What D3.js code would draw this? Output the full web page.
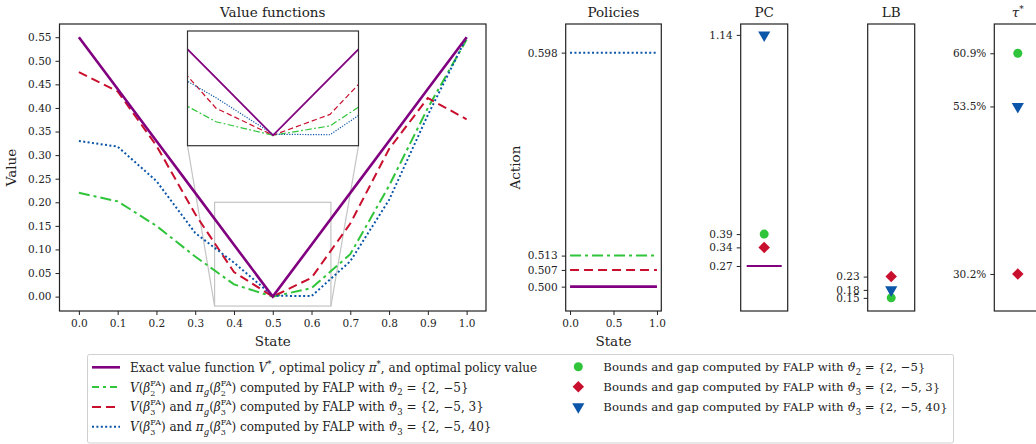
<!DOCTYPE html>
<html>
<head>
<meta charset="utf-8">
<script src="https://cdn.jsdelivr.net/npm/d3@7"></script>
<style>
  body { margin: 0; background: #fff; }
  svg text { fill: #222; }
  .tick line { stroke: #222; }
  .domain { display: none; }
</style>
</head>
<body>
<script>
// ---- data ----
var states = [0, 0.1, 0.2, 0.3, 0.4, 0.5, 0.6, 0.7, 0.8, 0.9, 1.0];
var vExact = [0.55, 0.44, 0.33, 0.22, 0.11, 0, 0.11, 0.22, 0.33, 0.44, 0.55];
var vTheta2 = [0.22, 0.202, 0.15, 0.085, 0.026, 0, 0.018, 0.09, 0.235, 0.40, 0.545];
var vTheta3 = [0.476, 0.435, 0.32, 0.175, 0.052, 0, 0.04, 0.155, 0.313, 0.421, 0.376];
var vTheta40 = [0.33, 0.318, 0.245, 0.135, 0.072, 0.002, 0.001, 0.075, 0.205, 0.385, 0.55];

var policyExact = 0.500, policyTheta2 = 0.513, policyTheta3 = 0.507, policyTheta40 = 0.598;

var pcExact = 0.27;
var pcValues = [0.39, 0.34, 1.14];      // theta2, theta3, theta40
var lbValues = [0.15, 0.23, 0.18];
var tauValues = [60.9, 30.2, 53.5];

var mainXTicks = d3.range(0, 1.01, 0.1);
var mainYTicks = d3.range(0, 0.5501, 0.05);
var policyYTicks = [0.500, 0.507, 0.513, 0.598];

var purple = '#800080', green = '#2fc43a', red = '#c8102e', blue = '#0b56a8';
var FONT = 'DejaVu Serif';
var TICK = '10.5px', LAB = '13.5px', LEG = '12px';

var series = [
  {vals: vTheta2, color: green, dash: '11,4,3,4', policy: policyTheta2},
  {vals: vTheta3, color: red, dash: '9,5', policy: policyTheta3},
  {vals: vTheta40, color: blue, dash: '2,2.4', policy: policyTheta40},
  {vals: vExact, color: purple, dash: null, policy: policyExact}
];

var svg = d3.select('body').append('svg').attr('width', 1036).attr('height', 444)
  .style('font-family', FONT);

function frame(g, w, h, col) {
  g.append('rect').attr('width', w).attr('height', h)
    .attr('fill', 'none').attr('stroke', col || '#222').attr('stroke-width', 1.2);
}
function fixFont(g) {
  g.attr('font-family', null).selectAll('text').style('font-family', FONT).style('font-size', TICK);
}

// ---- value functions ----
var m = {left: 59.5, top: 24, w: 426.5, h: 287};
var gMain = svg.append('g').attr('transform', 'translate(' + m.left + ',' + m.top + ')');
var x = d3.scaleLinear().domain([-0.05, 1.05]).range([0, m.w]);
var y = d3.scaleLinear().domain([-0.0305, 0.578]).range([m.h, 0]);

gMain.append('g').attr('transform', 'translate(0,' + m.h + ')')
  .call(d3.axisBottom(x).tickValues(mainXTicks).tickFormat(d3.format('.1f')).tickSize(4).tickPadding(5)).call(fixFont);
gMain.append('g')
  .call(d3.axisLeft(y).tickValues(mainYTicks).tickFormat(d3.format('.2f')).tickSize(4).tickPadding(4)).call(fixFont);

var line = d3.line().x(function(d, i) { return x(states[i]); }).y(function(d) { return y(d); });

// inset indicator
var zx = [0.35, 0.65], zy = [-0.02, 0.20];
var ins = {left: 187.5, top: 31, w: 171, h: 114.7};
gMain.append('rect')
  .attr('x', x(zx[0])).attr('y', y(zy[1]))
  .attr('width', x(zx[1]) - x(zx[0])).attr('height', y(zy[0]) - y(zy[1]))
  .attr('fill', 'none').attr('stroke', '#c4c4c4').attr('stroke-width', 1.2);
gMain.append('line')
  .attr('x1', ins.left - m.left).attr('y1', ins.top + ins.h - m.top)
  .attr('x2', x(zx[0])).attr('y2', y(zy[0]))
  .attr('stroke', '#c4c4c4').attr('stroke-width', 1.2);
gMain.append('line')
  .attr('x1', ins.left + ins.w - m.left).attr('y1', ins.top + ins.h - m.top)
  .attr('x2', x(zx[1])).attr('y2', y(zy[0]))
  .attr('stroke', '#c4c4c4').attr('stroke-width', 1.2);

series.forEach(function(s) {
  gMain.append('path').datum(s.vals).attr('d', line)
    .attr('fill', 'none').attr('stroke', s.color)
    .attr('stroke-width', s.dash ? 2 : 2.6)
    .attr('stroke-dasharray', s.dash);
});
frame(gMain, m.w, m.h);

// inset
svg.append('clipPath').attr('id', 'insclip').append('rect').attr('width', ins.w).attr('height', ins.h);
var gIns = svg.append('g').attr('transform', 'translate(' + ins.left + ',' + ins.top + ')');
gIns.append('rect').attr('width', ins.w).attr('height', ins.h).attr('fill', '#fff');
var ix = d3.scaleLinear().domain(zx).range([0, ins.w]);
var iy = d3.scaleLinear().domain(zy).range([ins.h, 0]);
var iline = d3.line().x(function(d, i) { return ix(states[i]); }).y(function(d) { return iy(d); });
var gInsData = gIns.append('g').attr('clip-path', 'url(#insclip)');
series.forEach(function(s) {
  gInsData.append('path').datum(s.vals).attr('d', iline)
    .attr('fill', 'none').attr('stroke', s.color)
    .attr('stroke-width', s.dash ? 1.2 : 1.8)
    .attr('stroke-dasharray', s.dash ? s.dash.split(',').map(function(v) { return v * 0.6; }).join(',') : null);
});
frame(gIns, ins.w, ins.h, '#333');

function label(g, xx, yy, txt, rot) {
  var t = g.append('text').attr('text-anchor', 'middle').style('font-family', FONT).style('font-size', LAB);
  if (rot) t.attr('transform', 'translate(' + xx + ',' + yy + ') rotate(-90)');
  else t.attr('x', xx).attr('y', yy);
  if (txt) t.text(txt);
  return t;
}
label(gMain, m.w / 2, -7, 'Value functions');
label(gMain, m.w / 2, m.h + 35, 'State');
label(gMain, -44, m.h / 2, 'Value', true);

// ---- policies ----
var p = {left: 565.7, top: 24, w: 95.6, h: 287};
var gPol = svg.append('g').attr('transform', 'translate(' + p.left + ',' + p.top + ')');
var px = d3.scaleLinear().domain([-0.05, 1.05]).range([0, p.w]);
var py = d3.scaleLinear().domain([0.4898, 0.610]).range([p.h, 0]);
gPol.append('g').attr('transform', 'translate(0,' + p.h + ')')
  .call(d3.axisBottom(px).tickValues([0, 0.5, 1]).tickFormat(d3.format('.1f')).tickSize(4).tickPadding(5)).call(fixFont);
gPol.append('g')
  .call(d3.axisLeft(py).tickValues(policyYTicks).tickFormat(d3.format('.3f')).tickSize(4).tickPadding(4)).call(fixFont);
series.forEach(function(s) {
  gPol.append('line')
    .attr('x1', px(0)).attr('x2', px(1)).attr('y1', py(s.policy)).attr('y2', py(s.policy))
    .attr('stroke', s.color).attr('stroke-width', s.dash ? 2 : 2.6)
    .attr('stroke-dasharray', s.dash);
});
frame(gPol, p.w, p.h);
label(gPol, p.w / 2, -7, 'Policies');
label(gPol, p.w / 2, p.h + 35, 'State');
label(gPol, -46, p.h / 2, 'Action', true);

// ---- markers ----
var markerColors = [green, red, blue];
function marker(g, i, cx, cy) {
  var sym;
  if (i === 0) sym = d3.symbol().type(d3.symbolCircle).size(64);
  else if (i === 1) sym = d3.symbol().type(d3.symbolSquare).size(66);
  else sym = d3.symbol().type(d3.symbolTriangle).size(64);
  g.append('path').attr('d', sym)
    .attr('transform', 'translate(' + cx + ',' + cy + ')' + (i === 2 ? ' rotate(180)' : '') + (i === 1 ? ' rotate(45)' : ''))
    .attr('fill', markerColors[i]);
}

var sharedY = d3.scaleLinear().domain([0.1005, 1.181]).range([287, 0]);

function pointPanel(left, vals, scale, ticks, fmt, extra) {
  var w = 47;
  var g = svg.append('g').attr('transform', 'translate(' + left + ',24)');
  g.append('g').call(d3.axisLeft(scale).tickValues(ticks).tickFormat(fmt).tickSize(4).tickPadding(4)).call(fixFont);
  if (extra) extra(g, w);
  vals.forEach(function(v, i) { marker(g, i, w / 2, scale(v)); });
  frame(g, w, 287);
  return label(g, w / 2, -7, null);
}

pointPanel(740.7, pcValues, sharedY, [0.27, 0.34, 0.39, 1.14], d3.format('.2f'), function(g, w) {
  g.append('line').attr('x1', w / 2 - 17.5).attr('x2', w / 2 + 17.5)
    .attr('y1', sharedY(pcExact)).attr('y2', sharedY(pcExact))
    .attr('stroke', purple).attr('stroke-width', 2);
}).text('PC');

pointPanel(867.7, lbValues, sharedY, [0.15, 0.18, 0.23], d3.format('.2f')).text('LB');

var tauY = d3.scaleLinear().domain([25.05, 64.97]).range([287, 0]);
var tauTitle = pointPanel(994.3, tauValues, tauY, [30.2, 53.5, 60.9], function(d) { return d3.format('.1f')(d) + '%'; });
tauTitle.append('tspan').style('font-style', 'italic').text('τ');
tauTitle.append('tspan').attr('dy', -5).style('font-size', '9px').text('*');

// ---- legend ----
var gLeg = svg.append('g');
gLeg.append('rect').attr('x', 87.5).attr('y', 354.5).attr('width', 866).attr('height', 88.5)
  .attr('rx', 2).attr('fill', '#fff').attr('stroke', '#d0d0d0').attr('stroke-width', 1);

function rich(t, parts) {
  var shift = 0;
  parts.forEach(function(pt) {
    var txt = pt[0], kind = pt[1] || 'n';
    if (kind === 'subsup') {
      var sb = t.append('tspan').attr('dy', 4 - shift).style('font-size', '8px').text(txt[0]);
      var wsb = sb.node().getComputedTextLength();
      t.append('tspan').attr('dx', -wsb).attr('dy', -10).style('font-size', '8px').text(txt[1]);
      shift = -6;
      return;
    }
    var target = kind === 'sub' || kind === 'isub' ? 3.5 : (kind === 'sup' ? -5 : 0);
    var ts = t.append('tspan').attr('dy', target - shift).text(txt);
    shift = target;
    if (kind === 'i' || kind === 'isub') ts.style('font-style', 'italic');
    if (kind !== 'n' && kind !== 'i') ts.style('font-size', '8.5px');
  });
}

function fa(theta, sub, set) {
  return [['V', 'i'], ['('], ['β', 'i'], [[sub, 'FA'], 'subsup'], [') and '], ['π', 'i'], ['g', 'isub'],
    ['('], ['β', 'i'], [[sub, 'FA'], 'subsup'], [') computed by FALP with '], ['ϑ', 'i'], [theta, 'sub'], [' = ' + set]];
}

var lineLabels = [
  {color: purple, dash: null, parts: [['Exact value function '], ['V', 'i'], ['*', 'sup'], [', optimal policy '], ['π', 'i'], ['*', 'sup'], [', and optimal policy value']]},
  {color: green, dash: '7,4,3,4', parts: fa('2', '2', '{2, −5}')},
  {color: red, dash: '9,5', parts: fa('3', '3', '{2, −5, 3}')},
  {color: blue, dash: '2,2.4', parts: fa('3', '3', '{2, −5, 40}')}
];
lineLabels.forEach(function(l, i) {
  var cy = 367.3 + i * 19.8;
  gLeg.append('line').attr('x1', 92).attr('x2', 120).attr('y1', cy).attr('y2', cy)
    .attr('stroke', l.color).attr('stroke-width', l.dash ? 2 : 2.6).attr('stroke-dasharray', l.dash);
  var t = gLeg.append('text').attr('x', 130).attr('y', cy + 4.5).style('font-family', FONT).style('font-size', LEG);
  rich(t, l.parts);
});

var markerLabels = [
  [['Bounds and gap computed by FALP with '], ['ϑ', 'i'], ['2', 'sub'], [' = {2, −5}']],
  [['Bounds and gap computed by FALP with '], ['ϑ', 'i'], ['3', 'sub'], [' = {2, −5, 3}']],
  [['Bounds and gap computed by FALP with '], ['ϑ', 'i'], ['3', 'sub'], [' = {2, −5, 40}']]
];
markerLabels.forEach(function(parts, i) {
  var cy = 366.7 + i * 20;
  marker(gLeg, i, 578.3, cy);
  var t = gLeg.append('text').attr('x', 603.3).attr('y', cy + 4.5).style('font-family', FONT).style('font-size', '11.7px');
  rich(t, parts);
});
</script>
</body>
</html>
